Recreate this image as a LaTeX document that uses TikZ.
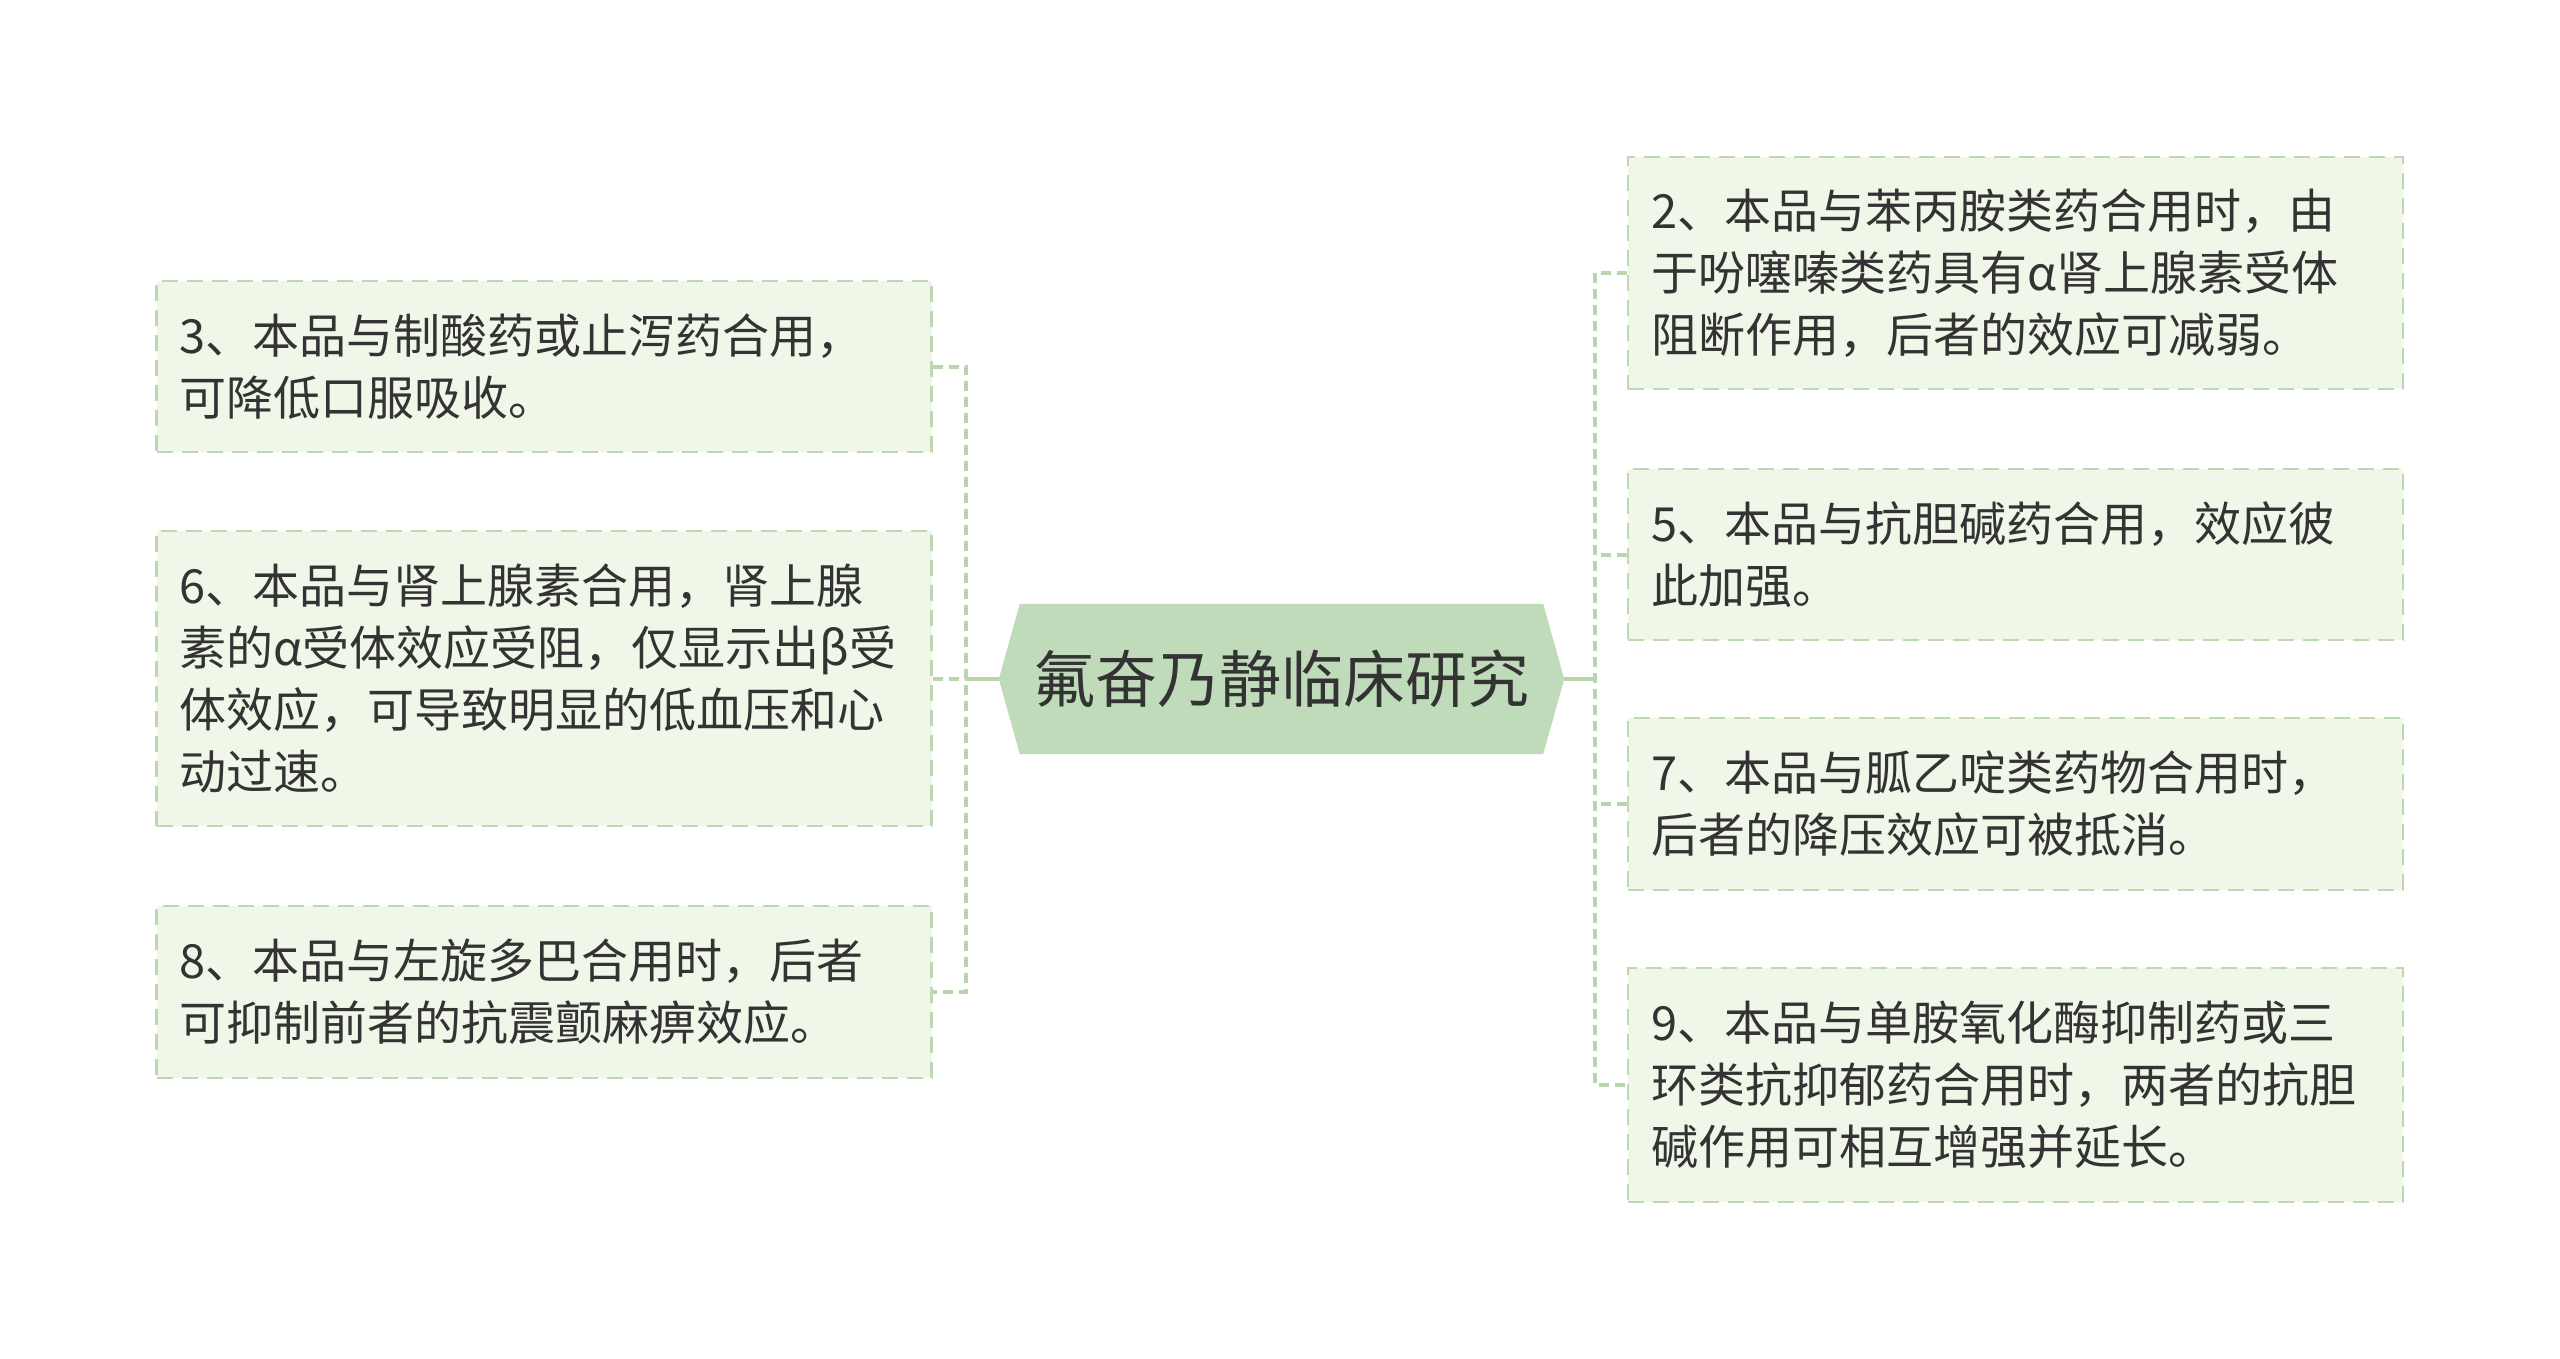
\documentclass[tikz,border=0pt]{standalone}
\usepackage{fontspec}
\newfontfamily\cjk{Noto Sans CJK SC}
\usetikzlibrary{backgrounds}
\definecolor{boxfill}{HTML}{F0F7E9}
\definecolor{boxline}{HTML}{BFD8B4}
\definecolor{linkc}{HTML}{B8D5AE}
\definecolor{hexfill}{HTML}{C0DBBA}
\definecolor{txt}{HTML}{333333}
\begin{document}
\begin{tikzpicture}[x=1pt,y=-1pt,
  leaf/.style={draw=boxline, line width=2.2pt, dash pattern=on 16pt off 9pt,
    fill=boxfill, text=txt, inner xsep=23pt, inner ysep=0pt, text width=729pt,
    align=left, minimum height=#1, font=\cjk\fontsize{47}{62}\selectfont},
  link/.style={draw=linkc, line width=4pt, dash pattern=on 10pt off 6pt},
  trunk/.style={draw=linkc, line width=4pt},
  topic/.style={text=txt, minimum width=565pt, minimum height=150pt, inner sep=0pt,
    font=\cjk\fontsize{62}{70}\selectfont}]
\useasboundingbox (0,0) rectangle (2560,1358);

\coordinate (lj) at (966,679);
\coordinate (rj) at (1595,679);

\node[topic] (c) at (1281.5,679) {氟奋乃静临床研究};
\begin{scope}[on background layer]
\fill[white] (0,0) rectangle (2560,1358);
\fill[hexfill] (c.west) -- ([xshift=21pt]c.north west) -- ([xshift=-21pt]c.north east)
  -- (c.east) -- ([xshift=-21pt]c.south east) -- ([xshift=21pt]c.south west) -- cycle;
\end{scope}

\node[leaf=171pt] (b3) at (544,366.5) {3、本品与制酸药或止泻药合用，\\可降低口服吸收。};
\node[leaf=295pt] (b6) at (544,678.5) {6、本品与肾上腺素合用，肾上腺\\素的α受体效应受阻，仅显示出β受\\体效应，可导致明显的低血压和心\\动过速。};
\node[leaf=172pt] (b8) at (544,992) {8、本品与左旋多巴合用时，后者\\可抑制前者的抗震颤麻痹效应。};

\node[leaf=232pt] (b2) at (2015.5,273) {2、本品与苯丙胺类药合用时，由\\于吩噻嗪类药具有α肾上腺素受体\\阻断作用，后者的效应可减弱。};
\node[leaf=171pt] (b5) at (2015.5,554.5) {5、本品与抗胆碱药合用，效应彼\\此加强。};
\node[leaf=172pt] (b7) at (2015.5,804) {7、本品与胍乙啶类药物合用时，\\后者的降压效应可被抵消。};
\node[leaf=234pt] (b9) at (2015.5,1085) {9、本品与单胺氧化酶抑制药或三\\环类抗抑郁药合用时，两者的抗胆\\碱作用可相互增强并延长。};

\draw[trunk] (c.west) -- (c.west -| lj);
\draw[link] (b3.east) -- (b3.east -| lj) -- (b8.east -| lj) -- (b8.east);
\draw[link] (b6.east) -- (b6.east -| lj);

\draw[trunk] (c.east) -- (c.east -| rj);
\draw[link] (b2.west) -- (b2.west -| rj) -- (b9.west -| rj) -- (b9.west);
\draw[link] (b5.west) -- (b5.west -| rj);
\draw[link] (b7.west) -- (b7.west -| rj);
\end{tikzpicture}
\end{document}
